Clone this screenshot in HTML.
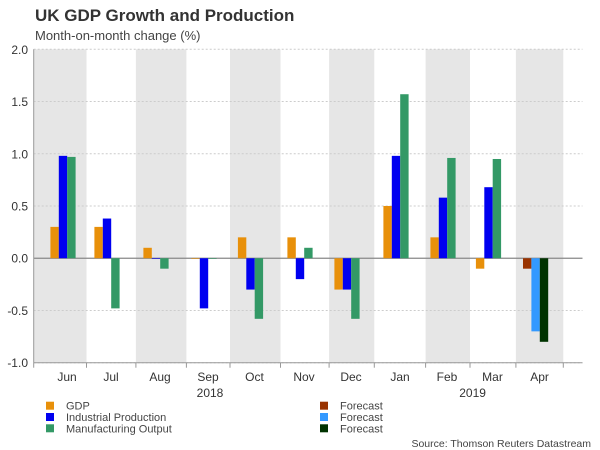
<!DOCTYPE html>
<html><head><meta charset="utf-8"><style>
html,body{margin:0;padding:0;background:#fff;width:600px;height:450px;overflow:hidden}
svg{display:block;font-family:"Liberation Sans",Arial,sans-serif}
</style></head><body>
<svg id="chart" width="600" height="450" viewBox="0 0 600 450">
<text x="35" y="21" font-size="17" font-weight="bold" fill="#333">UK GDP Growth and Production</text>
<text x="35" y="40" font-size="13" fill="#444">Month-on-month change (%)</text>
<g id="bands"></g><g id="grid"></g><g id="bars"></g><g id="axes"></g><g id="legend"></g>
<text x="591" y="447" font-size="10.5" fill="#444" text-anchor="end">Source: Thomson Reuters Datastream</text>
</svg>
<script>
const months=["Jun","Jul","Aug","Sep","Oct","Nov","Dec","Jan","Feb","Mar","Apr"];
const gdp=[0.3,0.3,0.1,0,0.2,0.2,-0.3,0.5,0.2,-0.1,null];
const indProd=[0.98,0.38,0,-0.48,-0.3,-0.2,-0.3,0.98,0.58,0.68,null];
const mfgOut=[0.97,-0.48,-0.1,0,-0.58,0.1,-0.58,1.57,0.96,0.95,null];
const gdpFc=[null,null,null,null,null,null,null,null,null,null,-0.1];
const indProdFc=[null,null,null,null,null,null,null,null,null,null,-0.7];
const mfgOutFc=[null,null,null,null,null,null,null,null,null,null,-0.8];
const yTicks=[2.0,1.5,1.0,0.5,0.0,-0.5,-1.0];
const bounds=[33.7,86.5,135.9,186.4,230,280.5,329.1,374.3,425.6,470,515.9,563.3];
const slotX=[63,107,156,204,250.5,300,347,396,443,488.5,535.6];
const NS="http://www.w3.org/2000/svg";
const yMin=-1,yMax=2,plotTop=49.3,plotBot=362.7,plotLeft=33.7,plotRight=582.5;
function y(v){return plotBot-(v-yMin)/(yMax-yMin)*(plotBot-plotTop);}
function xc(i){return slotX[i];}
function mk(t,a,p){const e=document.createElementNS(NS,t);for(const k in a)e.setAttribute(k,a[k]);document.getElementById(p).appendChild(e);return e;}
months.forEach((m,i)=>{if(i%2===0){const r=mk('rect',{x:bounds[i],y:plotTop,width:bounds[i+1]-bounds[i],height:plotBot-plotTop,fill:'#e6e6e6'},'bands');

}});
yTicks.forEach(t=>{const l=mk('line',{x1:plotLeft,x2:plotRight,y1:y(t),y2:y(t),stroke:t===0?'#888':'#ccc','stroke-dasharray':t===0?'none':'2,2','stroke-width':t===0?1.2:1},'grid');


const tx=mk('text',{x:28,y:y(t)+4.5,'font-size':12,'text-anchor':'end',fill:'#333'},'axes');tx.textContent=t.toFixed(1);

});
const series=[[gdp,'#e8900a','gdp'],[indProd,'#0000f0','industrial-production'],[mfgOut,'#339966','manufacturing-output']];
const fc=[[gdpFc,'#993300','gdp-forecast'],[indProdFc,'#3399ff','ip-forecast'],[mfgOutFc,'#003300','mfg-forecast']];
const bw=8.4;
months.forEach((m,i)=>{const c=xc(i);
[series,fc].forEach(S=>S.forEach((s,j)=>{const v=s[0][i];if(v===null)return;
const y0=y(0),y1=y(v);const r=mk('rect',{x:c+(j-1.5)*bw,y:Math.min(y0,y1),width:bw,height:Math.max(Math.abs(y1-y0),0.6),fill:s[1]},'bars');

}));
const tx=mk('text',{x:c+4,y:381,'font-size':12,'text-anchor':'middle',fill:'#333'},'axes');tx.textContent=m;

});
mk('line',{x1:plotLeft,x2:plotLeft,y1:plotTop,y2:plotBot,stroke:'#999'},'axes');
mk('line',{x1:plotLeft,x2:plotRight,y1:plotBot,y2:plotBot,stroke:'#999'},'axes');
bounds.forEach(b=>{mk('line',{x1:b,x2:b,y1:plotBot,y2:plotBot+5,stroke:'#999'},'axes');});
[['2018',210],['2019',472.6]].forEach(a=>{const t=mk('text',{x:a[1],y:397,'font-size':12,'text-anchor':'middle',fill:'#333'},'axes');t.textContent=a[0];

});
const leg=[['GDP','#e8900a',46],['Industrial Production','#0000f0',46],['Manufacturing Output','#339966',46],['Forecast','#993300',320],['Forecast','#3399ff',320],['Forecast','#003300',320]];
leg.forEach((l,i)=>{const yy=405.7+(i%3)*11.3;
const r=mk('rect',{x:l[2],y:yy-4,width:8,height:8,fill:l[1]},'legend');


const t=mk('text',{x:l[2]+20,y:yy+4,'font-size':11,fill:'#444'},'legend');t.textContent=l[0];

});
</script>
</body></html>
